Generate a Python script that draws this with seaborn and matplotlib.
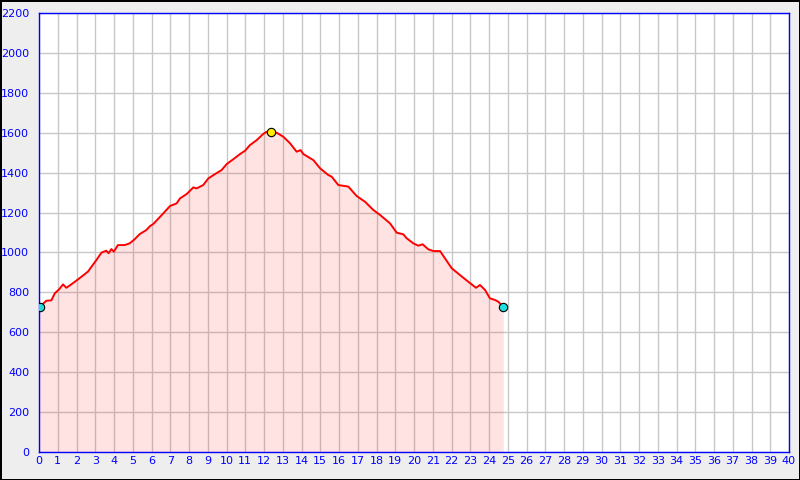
import numpy as np
import pandas as pd
import seaborn as sns
import matplotlib.pyplot as plt

# Elevation profile (km, m)
dist_km = [0.03, 0.39, 0.66, 0.84, 1.07, 1.28, 1.46, 1.75, 2.08, 2.61, 3.06, 3.33, 3.59, 3.71,
           3.86, 3.99, 4.21, 4.57, 4.84, 5.10, 5.37, 5.72, 5.92, 6.10, 6.63, 6.99, 7.34, 7.52,
           7.88, 8.23, 8.41, 8.76, 9.03, 9.39, 9.74, 10.01, 10.36, 10.72, 10.99, 11.25, 11.61,
           11.96, 12.14, 12.37, 12.68, 13.03, 13.39, 13.74, 13.95, 14.10, 14.63, 14.99, 15.43,
           15.61, 15.96, 16.50, 16.94, 17.39, 17.83, 18.19, 18.72, 19.08, 19.43, 19.61, 19.96,
           20.23, 20.46, 20.76, 21.03, 21.39, 21.65, 22.01, 22.45, 22.90, 23.31, 23.52, 23.79,
           24.05, 24.32, 24.50, 24.76]
elev_m = [727, 758, 760, 795, 815, 840, 823, 842, 865, 904, 962, 999, 1009, 996,
          1017, 1004, 1037, 1037, 1046, 1066, 1092, 1112, 1132, 1143, 1196, 1233, 1246, 1271,
          1293, 1326, 1321, 1338, 1371, 1393, 1413, 1443, 1467, 1493, 1510, 1538, 1563,
          1594, 1605, 1606, 1600, 1580, 1547, 1505, 1513, 1493, 1463, 1422, 1388,
          1380, 1338, 1330, 1283, 1254, 1213, 1188, 1146, 1099, 1091, 1071, 1046,
          1034, 1041, 1016, 1007, 1007, 971, 921, 887, 853, 823, 837, 812,
          770, 762, 753, 727]

x_ticks = list(range(0, 41))
y_ticks = list(range(0, 2201, 200))

profile = pd.DataFrame({"km": dist_km, "elev": elev_m})
peak = profile.loc[[profile["elev"].idxmax()]]
ends = profile.iloc[[0, -1]]

sns.set_style("white")
fig = plt.figure(figsize=(8, 4.8), dpi=100)
fig.patch.set_facecolor("#eeeeee")
fig.patch.set_edgecolor("black")
fig.patch.set_linewidth(1)
ax = fig.add_axes([0.04875, 0.0583, 0.9375, 0.9146])
ax.set_facecolor("white")

# Grid
ax.set_xticks(x_ticks)
ax.set_yticks(y_ticks)
ax.grid(True, color="#c8c8c8", linewidth=1, zorder=0)
ax.set_axisbelow(True)

# Filled profile
ax.fill_between(profile["km"], profile["elev"], 0, color="red", alpha=0.11,
                linewidth=0, zorder=1)
sns.lineplot(data=profile, x="km", y="elev", color="#ff0000", linewidth=1.4,
             ax=ax, zorder=2)
sns.scatterplot(data=ends, x="km", y="elev", color="#22dddd", edgecolor="black",
                s=36, linewidth=0.8, ax=ax, zorder=3)
sns.scatterplot(data=peak, x="km", y="elev", color="#ffee00", edgecolor="black",
                s=36, linewidth=0.8, ax=ax, zorder=3)

ax.set_xlim(0, 40)
ax.set_ylim(0, 2200)
ax.set_xlabel("")
ax.set_ylabel("")

for side in ax.spines.values():
    side.set_color("blue")
    side.set_linewidth(1)
    side.set_visible(True)

ax.tick_params(axis="both", direction="in", length=5, width=1, color="blue",
               labelcolor="blue", labelsize=8)
ax.tick_params(axis="y", pad=7)
ax.tick_params(axis="x", pad=3)

plt.savefig("out.png", dpi=100, facecolor=fig.get_facecolor(),
            edgecolor=fig.get_edgecolor())
